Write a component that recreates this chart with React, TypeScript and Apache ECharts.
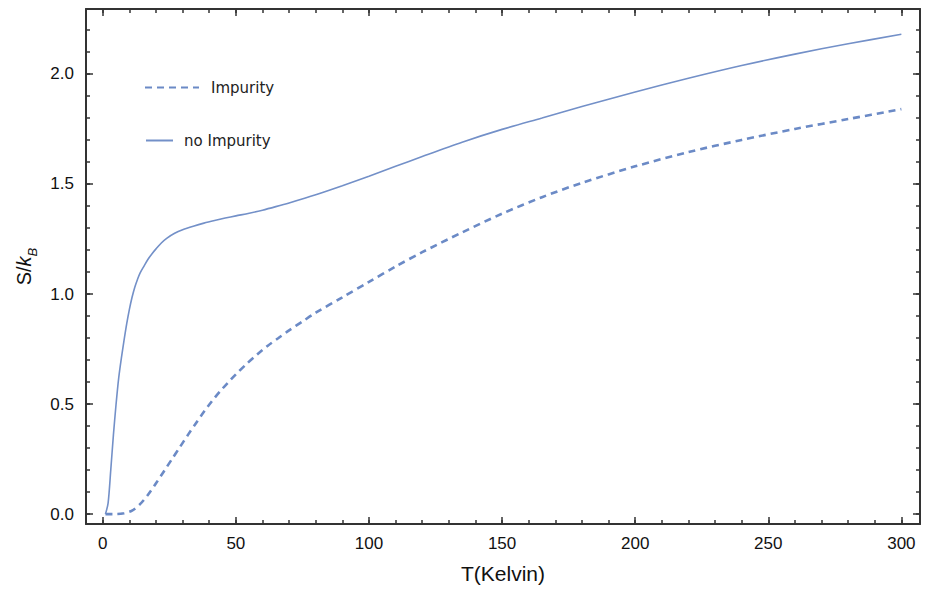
import React, { useEffect, useRef } from "react";
import * as echarts from "echarts";

// ---- data ----
const noImpT = [1, 2, 3, 4, 5, 6, 7, 8, 9, 10, 11, 12, 13, 14, 15.5, 17, 18.5, 20, 22, 24, 27, 30, 34, 38, 42, 46, 50, 55, 60, 65, 70, 80, 90, 100, 110, 120, 135, 150, 165, 180, 200, 220, 240, 260, 280, 300];
const noImpS = [0, 0.05, 0.2, 0.36, 0.5, 0.62, 0.71, 0.79, 0.865, 0.93, 0.985, 1.03, 1.065, 1.095, 1.127, 1.158, 1.183, 1.205, 1.232, 1.253, 1.276, 1.292, 1.308, 1.322, 1.334, 1.345, 1.355, 1.367, 1.381, 1.397, 1.414, 1.451, 1.492, 1.535, 1.58, 1.625, 1.69, 1.748, 1.8, 1.852, 1.918, 1.98, 2.038, 2.09, 2.137, 2.18];

const impT = [1, 5, 8, 11, 14, 17, 20, 23, 26, 29, 32, 35, 38, 41, 44, 47, 50, 54, 58, 62, 66, 70, 75, 80, 90, 100, 110, 120, 135, 150, 165, 180, 200, 220, 240, 260, 280, 300];
const impS = [0, 0, 0.004, 0.016, 0.045, 0.088, 0.14, 0.195, 0.25, 0.305, 0.36, 0.413, 0.465, 0.513, 0.557, 0.597, 0.635, 0.682, 0.725, 0.765, 0.8, 0.835, 0.875, 0.915, 0.985, 1.055, 1.125, 1.19, 1.28, 1.365, 1.44, 1.505, 1.58, 1.645, 1.7, 1.75, 1.795, 1.84];

const xMajorTicks = [0, 50, 100, 150, 200, 250, 300];
const xMinorTicks = [0, 10, 20, 30, 40, 50, 60, 70, 80, 90, 100, 110, 120, 130, 140, 150, 160, 170, 180, 190, 200, 210, 220, 230, 240, 250, 260, 270, 280, 290, 300];
const yMajorTicks = [0, 0.5, 1, 1.5, 2];
const yMinorTicks = [0, 0.1, 0.2, 0.3, 0.4, 0.5, 0.6, 0.7, 0.8, 0.9, 1, 1.1, 1.2, 1.3, 1.4, 1.5, 1.6, 1.7, 1.8, 1.9, 2, 2.1, 2.2];

const X_MIN = -6.3;
const X_MAX = 307;
const Y_MIN = -0.045;
const Y_MAX = 2.295;

const FRAME = "#333333";
const CURVE = "#7390c8";
const FONT = "'Liberation Sans', Arial, sans-serif";

function xAxis(position: string, ticks: number[], len: number, line: boolean, labels: boolean, extra: any = {}) {
  return {
    type: "value",
    position,
    min: X_MIN,
    max: X_MAX,
    splitLine: { show: false },
    axisLine: { show: line, onZero: false, lineStyle: { color: FRAME, width: 2 } },
    axisTick: { show: true, inside: true, length: len, customValues: ticks, lineStyle: { color: FRAME, width: 1.5 } },
    axisLabel: labels
      ? { show: true, customValues: ticks, margin: 11, fontSize: 17, color: "#111", fontFamily: FONT }
      : { show: false },
    ...extra,
  };
}

function yAxis(position: string, ticks: number[], len: number, line: boolean, labels: boolean, extra: any = {}) {
  return {
    type: "value",
    position,
    min: Y_MIN,
    max: Y_MAX,
    splitLine: { show: false },
    axisLine: { show: line, onZero: false, lineStyle: { color: FRAME, width: 2 } },
    axisTick: { show: true, inside: true, length: len, customValues: ticks, lineStyle: { color: FRAME, width: 1.5 } },
    axisLabel: labels
      ? {
          show: true,
          customValues: ticks,
          margin: 12,
          fontSize: 17,
          color: "#111",
          fontFamily: FONT,
          formatter: (v: number) => v.toFixed(1),
        }
      : { show: false },
    ...extra,
  };
}

const hiddenSymbol = { color: "transparent", borderColor: "transparent", borderWidth: 0, opacity: 0 };

export default function App() {
  const ref = useRef<HTMLDivElement>(null);

  useEffect(() => {
    if (!ref.current) return;
    const chart = echarts.init(ref.current, undefined, { renderer: "svg" });

    const noImpData = noImpT.map((t, i) => [t, noImpS[i]]);
    const impData = impT.map((t, i) => [t, impS[i]]);

    chart.setOption({
      animation: false,
      backgroundColor: "#ffffff",
      grid: { left: 86, right: 8, top: 9, bottom: 68, containLabel: false },
      xAxis: [
        xAxis("bottom", xMajorTicks, 7, true, true, {
          name: "T(Kelvin)",
          nameLocation: "middle",
          nameGap: 39,
          nameTextStyle: { fontSize: 21, color: "#111", fontFamily: FONT },
        }),
        xAxis("bottom", xMinorTicks, 4, false, false),
        xAxis("top", xMajorTicks, 7, true, false),
        xAxis("top", xMinorTicks, 4, false, false),
      ],
      yAxis: [
        yAxis("left", yMajorTicks, 7, true, true, {
          name: "{s|S/}{k|k}{b|B}",
          nameLocation: "middle",
          nameGap: 46,
          nameTextStyle: {
            color: "#111",
            fontFamily: FONT,
            rich: {
              s: { fontSize: 20, fontFamily: FONT, color: "#111", verticalAlign: "top", lineHeight: 24 },
              k: { fontSize: 20, fontFamily: FONT, fontStyle: "italic", color: "#111", verticalAlign: "top", lineHeight: 24 },
              b: { fontSize: 13, fontFamily: FONT, fontStyle: "italic", color: "#111", verticalAlign: "top", lineHeight: 13, padding: [12, 0, 0, 0] },
            },
          },
        }),
        yAxis("left", yMinorTicks, 4, false, false),
        yAxis("right", yMajorTicks, 7, true, false),
        yAxis("right", yMinorTicks, 4, false, false),
      ],
      legend: [
        {
          data: ["Impurity"],
          left: 144,
          top: 80,
          itemWidth: 54,
          itemHeight: 14,
          padding: 0,
          itemStyle: hiddenSymbol,
          textStyle: { fontSize: 15, color: "#222", fontFamily: "'DejaVu Sans', sans-serif", padding: [0, 0, 0, 7] },
        },
        {
          data: ["no Impurity"],
          left: 145,
          top: 133,
          itemWidth: 27,
          itemHeight: 14,
          padding: 0,
          itemStyle: hiddenSymbol,
          textStyle: { fontSize: 15, color: "#222", fontFamily: "'DejaVu Sans', sans-serif", padding: [0, 0, 0, 6] },
        },
      ],
      series: [
        {
          name: "Impurity",
          type: "line",
          data: impData,
          xAxisIndex: 0,
          yAxisIndex: 0,
          symbol: "none",
          showSymbol: false,
          smooth: 0.3,
          color: CURVE,
          lineStyle: { color: "#6b8ac6", width: 2.6, type: [7, 5] },
        },
        {
          name: "no Impurity",
          type: "line",
          data: noImpData,
          xAxisIndex: 0,
          yAxisIndex: 0,
          symbol: "none",
          showSymbol: false,
          smooth: 0.3,
          color: CURVE,
          lineStyle: { color: CURVE, width: 1.6 },
        },
      ],
    });

    return () => chart.dispose();
  }, []);

  return (
    <div
      ref={ref}
      style={{ position: "fixed", left: 0, top: 0, width: 928, height: 592, background: "#fff" }}
    />
  );
}
